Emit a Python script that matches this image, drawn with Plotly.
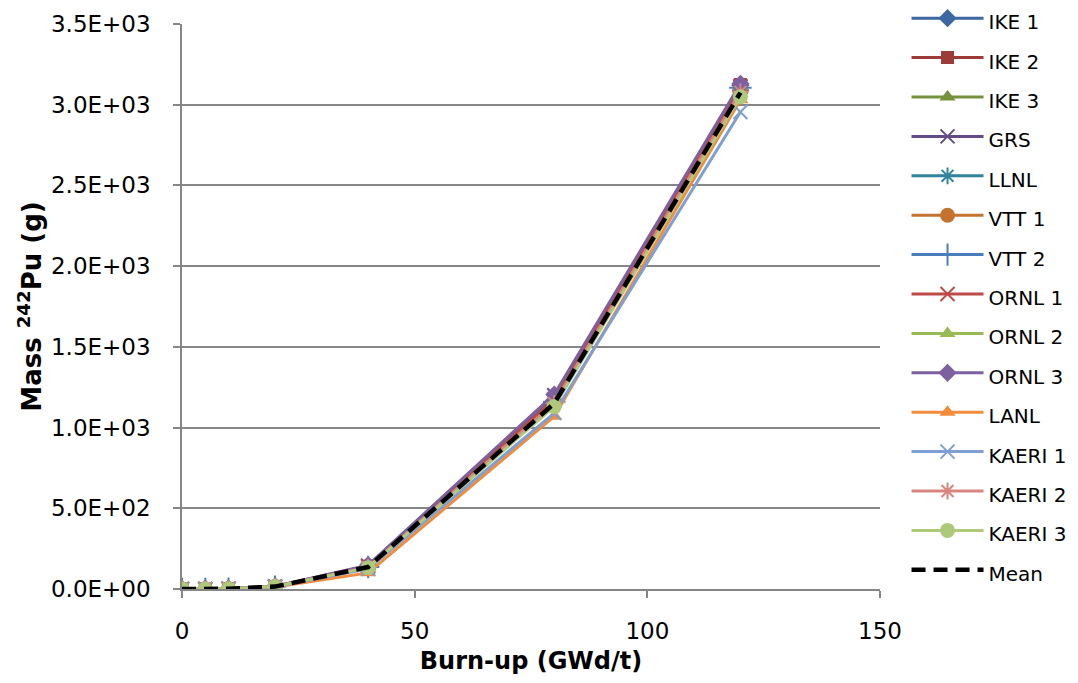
import plotly.graph_objects as go

burnup = [0, 5, 10, 20, 40, 80, 120]

series_names = ["IKE 1", "IKE 2", "IKE 3", "GRS", "LLNL", "VTT 1", "VTT 2",
                "ORNL 1", "ORNL 2", "ORNL 3", "LANL", "KAERI 1", "KAERI 2", "KAERI 3"]

ike1 = [0, 0.2, 1.5, 15, 135, 1170, 3120]
ike2 = [0, 0.2, 1.6, 16, 140, 1180, 3125]
ike3 = [0, 0.2, 1.5, 15, 138, 1160, 3100]
grs = [0, 0.2, 1.4, 15, 145, 1200, 3110]
llnl = [0, 0.2, 1.5, 15, 137, 1150, 3090]
vtt1 = [0, 0.2, 1.5, 15, 140, 1165, 3110]
vtt2 = [0, 0.2, 1.5, 15, 136, 1160, 3105]
ornl1 = [0, 0.2, 1.5, 16, 140, 1175, 3115]
ornl2 = [0, 0.2, 1.5, 15, 135, 1150, 3070]
ornl3 = [0, 0.2, 1.6, 16, 148, 1205, 3130]
lanl = [0, 0.1, 1.2, 12, 100, 1070, 3030]
kaeri1 = [0, 0.2, 1.4, 14, 125, 1090, 2955]
kaeri2 = [0, 0.2, 1.5, 15, 135, 1150, 3080]
kaeri3 = [0, 0.2, 1.5, 15, 132, 1130, 3050]
mean = [0, 0.2, 1.5, 15, 136, 1150, 3075]

series_values = [ike1, ike2, ike3, grs, llnl, vtt1, vtt2,
                 ornl1, ornl2, ornl3, lanl, kaeri1, kaeri2, kaeri3]

y_tick_values = [0, 500, 1000, 1500, 2000, 2500, 3000, 3500]
y_tick_labels = ["0.0E+00", "5.0E+02", "1.0E+03", "1.5E+03",
                 "2.0E+03", "2.5E+03", "3.0E+03", "3.5E+03"]
x_tick_values = [0, 50, 100, 150]

colors = ["#3C67A1", "#9C3B38", "#76923C", "#634C86", "#31849B", "#C5722F", "#4A7EBB",
          "#BE4B48", "#98B954", "#7D60A0", "#F08C3C", "#7D9FD3", "#D88580", "#AFC97A"]
symbols = ["diamond", "square", "triangle-up", "x-thin", "asterisk", "circle", "cross-thin",
           "x-thin", "triangle-up", "diamond", "triangle-up", "x-thin", "asterisk", "circle"]
sizes = [14, 13, 14, 14, 14, 15, 16, 14, 14, 14, 14, 14, 14, 15]

fig = go.Figure()
for name, vals, c, s, sz in zip(series_names, series_values, colors, symbols, sizes):
    thin = s in ("x-thin", "cross-thin", "asterisk")
    fig.add_trace(go.Scatter(
        x=burnup, y=vals, mode="lines+markers",
        name="<span style='font-size:20px'>" + name + "</span>",
        line=dict(color=c, width=3),
        marker=dict(symbol=s, size=sz, color=c,
                    line=dict(color=c, width=2 if thin else 0)),
    ))

fig.add_trace(go.Scatter(
    x=burnup, y=mean, mode="lines",
    name="<span style='font-size:20px'>Mean</span>",
    line=dict(color="black", width=4.5, dash="14px,8px"),
))

fig.update_layout(
    width=1078, height=683,
    margin=dict(l=182, r=198, t=24, b=94, autoexpand=False),
    paper_bgcolor="white", plot_bgcolor="white",
    font=dict(family="DejaVu Sans", color="black"),
    legend=dict(x=1.038, y=1.054, xanchor="left", yanchor="top",
                font=dict(size=28, family="DejaVu Sans", color="black"),
                itemwidth=72, tracegroupgap=0, bgcolor="rgba(0,0,0,0)",
                maxheight=683),
    showlegend=True,
)

fig.update_xaxes(
    range=[0, 150], tickvals=x_tick_values, showgrid=False, zeroline=False,
    showline=True, linecolor="#868686", linewidth=1.5,
    ticks="outside", ticklen=7, tickcolor="#868686", tickwidth=1.5,
    tickfont=dict(size=23, family="DejaVu Sans", color="black"),
    ticklabelstandoff=14,
    title=dict(text="<b>Burn-up (GWd/t)</b>", font=dict(size=24, family="DejaVu Sans", color="black"),
               standoff=9),
)
fig.update_yaxes(
    range=[0, 3500], tickvals=y_tick_values, ticktext=y_tick_labels,
    showgrid=True, gridcolor="#868686", gridwidth=1.5, zeroline=False,
    showline=True, linecolor="#868686", linewidth=1.5,
    ticks="outside", ticklen=7, tickcolor="#868686", tickwidth=1.5,
    tickfont=dict(size=23, family="DejaVu Sans", color="black"),
    ticklabelstandoff=18,
    title=dict(text="<b>Mass <sup>242</sup>Pu (g)</b>", font=dict(size=26, family="DejaVu Sans", color="black"),
               standoff=2),
)

fig.write_html("out.html")
